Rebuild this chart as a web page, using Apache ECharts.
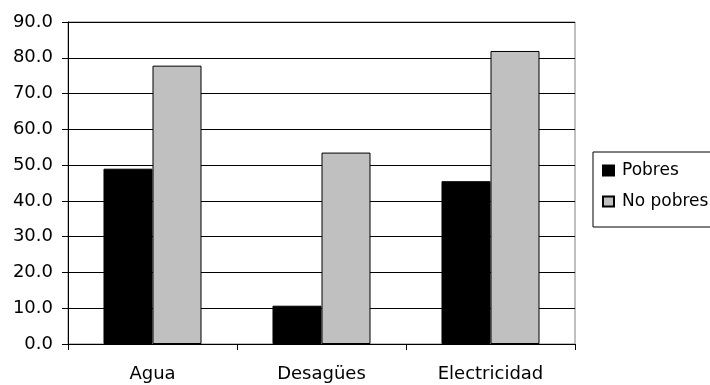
<!DOCTYPE html>
<html>
<head>
<meta charset="utf-8">
<script src="https://cdn.jsdelivr.net/npm/echarts@6/dist/echarts.min.js"></script>
<style>
  html, body { margin: 0; padding: 0; background: #fff; }
  #chart { width: 710px; height: 385px; }
</style>
</head>
<body>
<div id="chart"></div>
<script>
// Access to basic services by poverty status (%)
var categories = ['Agua', 'Desagües', 'Electricidad'];
var pobres = [49.0, 10.7, 45.5];
var noPobres = [77.8, 53.5, 81.9];
var seriesNames = ['Pobres', 'No pobres'];
var yTicks = { min: 0, max: 90, interval: 10 };

var font = '"DejaVu Sans", "Liberation Sans", Arial, sans-serif';
var chart = echarts.init(document.getElementById('chart'), null, { renderer: 'canvas' });

chart.setOption({
  animation: false,
  backgroundColor: '#ffffff',
  grid: {
    left: 68, top: 22, right: 135, bottom: 41,
    show: true, borderColor: '#808080', borderWidth: 1, backgroundColor: 'transparent'
  },
  legend: {
    orient: 'vertical',
    left: 593, top: 152,
    data: seriesNames,
    icon: 'rect',
    borderColor: '#000', borderWidth: 1,
    padding: [10, 30, 17, 9],
    itemWidth: 11, itemHeight: 10, itemGap: 14,
    textStyle: { fontFamily: font, fontSize: 17, color: '#000', padding: [0, 0, 0, 3] }
  },
  xAxis: {
    type: 'category',
    data: categories,
    axisLine: { lineStyle: { color: '#000', width: 1 } },
    axisTick: { show: true, length: 6, lineStyle: { color: '#000' } },
    axisLabel: { fontFamily: font, fontSize: 18, color: '#000', margin: 21 }
  },
  yAxis: {
    type: 'value',
    min: yTicks.min, max: yTicks.max, interval: yTicks.interval,
    axisLine: { show: true, lineStyle: { color: '#000', width: 1 } },
    axisTick: { show: true, length: 6, lineStyle: { color: '#000' } },
    axisLabel: {
      fontFamily: font, fontSize: 18, color: '#000', margin: 15,
      padding: [4, 0, 0, 0],
      formatter: function (v) { return v.toFixed(1); }
    },
    splitLine: { lineStyle: { color: '#000', width: 1 } }
  },
  series: [
    {
      name: seriesNames[0], type: 'bar', data: pobres,
      barGap: '0%', barCategoryGap: '42%',
      itemStyle: { color: '#000', borderColor: '#000', borderWidth: 1 }
    },
    {
      name: seriesNames[1], type: 'bar', data: noPobres,
      itemStyle: { color: '#c0c0c0', borderColor: '#000', borderWidth: 1 }
    }
  ]
});
</script>
</body>
</html>
